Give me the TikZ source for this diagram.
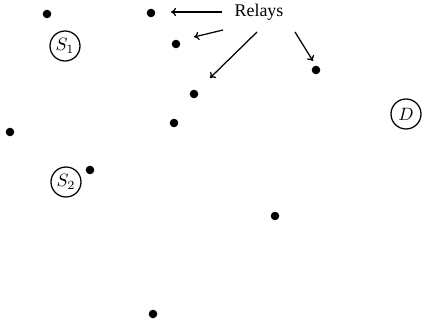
\documentclass[tikz,border=0pt]{standalone}
\usepackage{fontspec}
\usetikzlibrary{arrows.meta}
\newfontfamily\relfont{Liberation Serif}
\begin{document}
\begin{tikzpicture}[x=0.56pt,y=-0.56pt,
  relay/.style={circle,fill=black,inner sep=0pt,minimum size=4.8pt},
  terminal/.style={circle,draw,line width=0.7pt,inner sep=0pt,minimum size=16.8pt},
  pointer/.style={-{To[length=2.8pt,width=4.6pt]},line width=0.7pt}]
\useasboundingbox (0,0) rectangle (422,329);
% relays
\node[relay] (r1) at (47,14) {};
\node[relay] (r2) at (151,13) {};
\node[relay] (r3) at (176,44) {};
\node[relay] (r4) at (194,94) {};
\node[relay] (r5) at (174,123) {};
\node[relay] (r6) at (10,132) {};
\node[relay] (r7) at (316,70) {};
\node[relay] (r8) at (90,170) {};
\node[relay] (r9) at (275,216) {};
\node[relay] (r10) at (153,314) {};
% terminals
\node[terminal] (s1) at (65,46) {$S_1$};
\node[terminal] (s2) at (66,182) {$S_2$};
\node[terminal] (d) at (406,114) {$D$};
% label
\node[font=\relfont] (lab) at (259,12) {Relays};
% arrow ends
\coordinate (a1s) at (222,12);  \coordinate (a1e) at (171,12);
\coordinate (a2s) at (223,30);  \coordinate (a2e) at (194,37);
\coordinate (a3s) at (257,32);  \coordinate (a3e) at (210,78);
\coordinate (a4s) at (295,32);  \coordinate (a4e) at (313,61);
\draw[pointer] (a1s) -- (a1e);
\draw[pointer] (a2s) -- (a2e);
\draw[pointer] (a3s) -- (a3e);
\draw[pointer] (a4s) -- (a4e);
\end{tikzpicture}
\end{document}
